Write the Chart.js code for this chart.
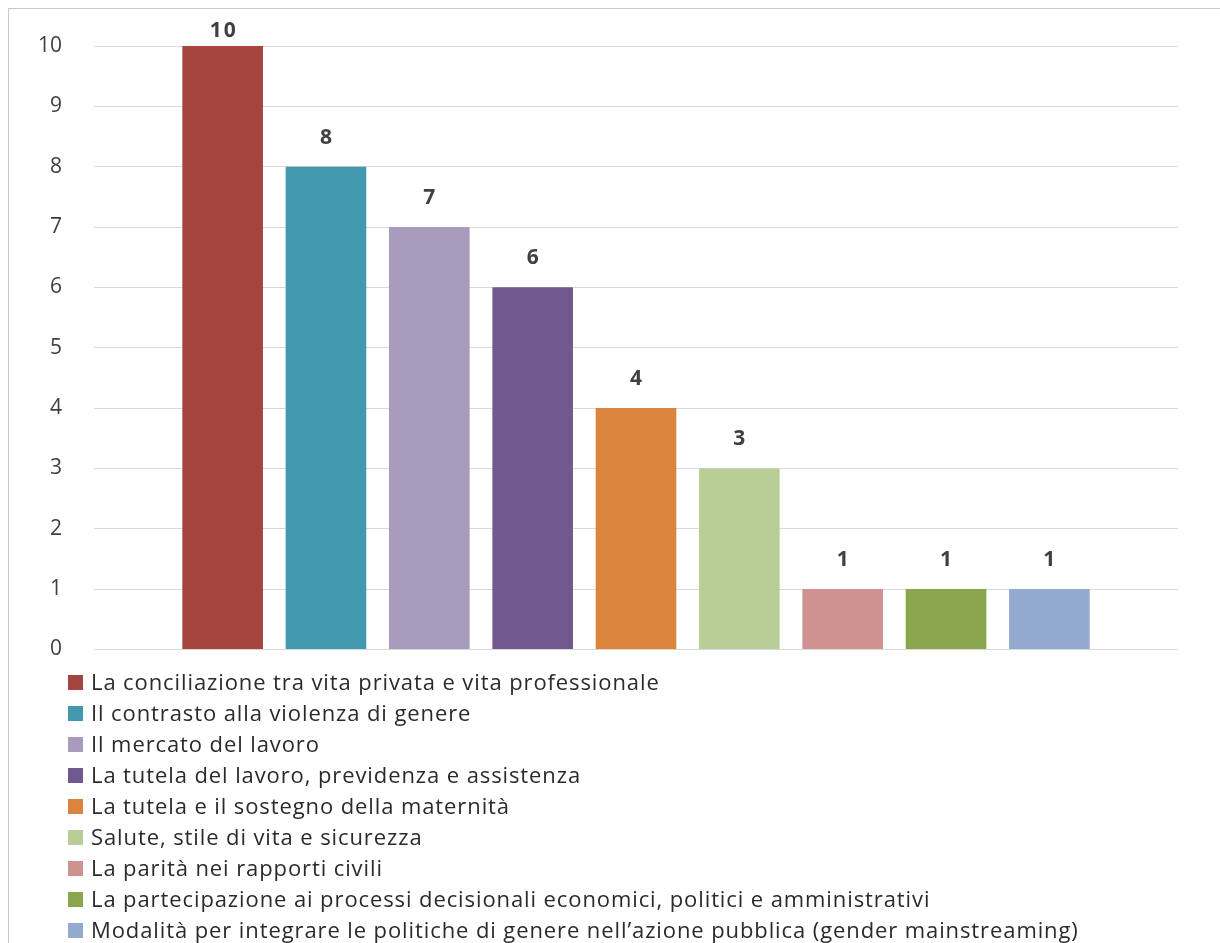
<!DOCTYPE html>
<html>
<head>
<meta charset="utf-8">
<script src="https://cdn.jsdelivr.net/npm/chart.js@4.4.1/dist/chart.umd.min.js"></script>
<style>
  html, body { margin: 0; padding: 0; background: #fff; overflow: hidden; }
  body { width: 1220px; height: 943px; position: relative; font-family: "Open Sans", sans-serif; }
  #frame { position: absolute; left: 8px; top: 8px; width: 1240px; height: 960px;
           border-top: 1px solid #c8c8c8; border-left: 1px solid #c8c8c8; }
  #wrap { position: absolute; left: 0; top: 0; width: 1220px; height: 694px; }
  #legend { position: absolute; left: 68px; top: 666px; margin: 0; padding: 0; list-style: none; }
  #legend li { height: 31px; line-height: 31px; font-size: 22px; letter-spacing: 0.9px; color: #2b2b2b; white-space: nowrap; }
  #legend span { display: inline-block; width: 15px; height: 15px; margin-right: 8px; vertical-align: 0px; }
</style>
</head>
<body>
<div id="frame"></div>
<div id="wrap"><canvas id="barChart"></canvas></div>
<ul id="legend"></ul>
<script>
const topics = [
  "La conciliazione tra vita privata e vita professionale",
  "Il contrasto alla violenza di genere",
  "Il mercato del lavoro",
  "La tutela del lavoro, previdenza e assistenza",
  "La tutela e il sostegno della maternità",
  "Salute, stile di vita e sicurezza",
  "La parità nei rapporti civili",
  "La partecipazione ai processi decisionali economici, politici e amministrativi",
  "Modalità per integrare le politiche di genere nell’azione pubblica (gender mainstreaming)"
];
const counts = [10, 8, 7, 6, 4, 3, 1, 1, 1];
const colors = ['#A6443F', '#4198AF', '#A99BBD', '#71588F', '#DB843D', '#B9CD96', '#D09290', '#89A54E', '#93A9CF'];
const yTicks = [0, 1, 2, 3, 4, 5, 6, 7, 8, 9, 10];

// ---- value labels above bars ----
const valueLabels = {
  id: 'valueLabels',
  afterDatasetsDraw(chart) {
    const ctx = chart.ctx;
    ctx.save();
    ctx.font = 'bold 21px "Open Sans", sans-serif';
    ctx.letterSpacing = '2px';
    ctx.fillStyle = '#404040';
    ctx.textAlign = 'center';
    ctx.textBaseline = 'middle';
    chart.data.datasets.forEach((ds, i) => {
      const bar = chart.getDatasetMeta(i).data[0];
      ctx.fillText(ds.data[0], bar.x + 1, Math.max(bar.y - 29, 31));
    });
    ctx.restore();
  }
};

new Chart(document.getElementById('barChart').getContext('2d'), {
  type: 'bar',
  data: {
    labels: [''],
    datasets: topics.map((t, i) => ({
      label: t,
      data: [counts[i]],
      backgroundColor: colors[i],
      categoryPercentage: 0.858,
      barPercentage: 0.78
    }))
  },
  options: {
    responsive: true,
    maintainAspectRatio: false,
    animation: false,
    layout: { padding: { top: 46, right: 42, bottom: 11, left: 0 } },
    plugins: {
      legend: { display: false },
      tooltip: { enabled: false }
    },
    scales: {
      x: { display: false },
      y: {
        min: 0,
        max: 10,
        afterBuildTicks: s => { s.ticks = yTicks.map(v => ({ value: v })); },
        afterFit: s => { s.width = 94; },
        border: { display: false },
        grid: { color: '#D9D9D9', lineWidth: 1, drawTicks: false },
        ticks: {
          padding: 32,
          color: '#404040',
          font: { family: '"Open Sans", sans-serif', size: 21 }
        }
      }
    }
  },
  plugins: [valueLabels]
});

// ---- legend as a vertical list ----
const legendEl = document.getElementById('legend');
topics.forEach((t, i) => {
  const li = document.createElement('li');
  const sw = document.createElement('span');
  sw.style.background = colors[i];
  li.appendChild(sw);
  li.appendChild(document.createTextNode(t));
  legendEl.appendChild(li);
});
</script>
</body>
</html>
